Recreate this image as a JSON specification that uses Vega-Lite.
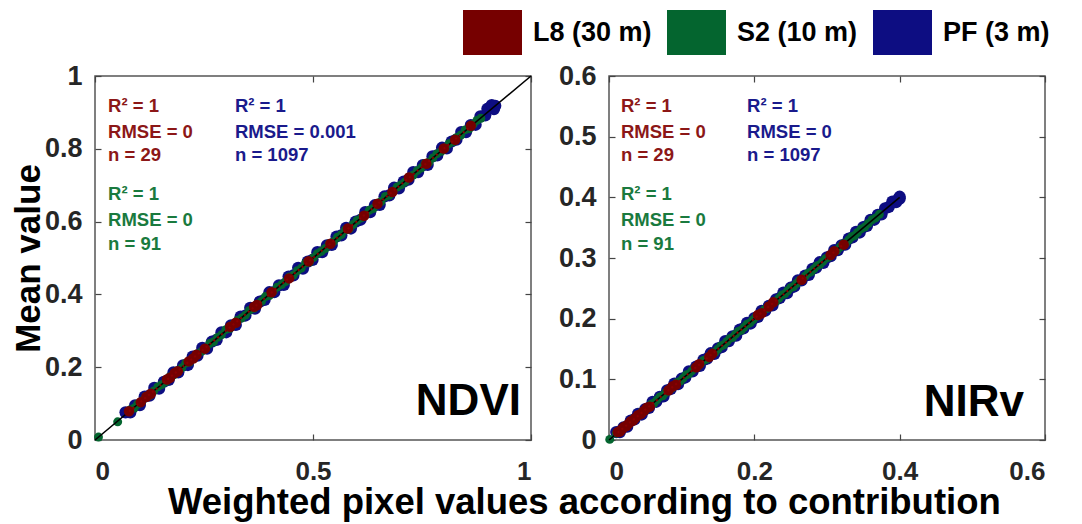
{
  "$schema": "https://vega.github.io/schema/vega-lite/v6.json",
  "padding": {"left": 10, "top": 3, "right": 10, "bottom": 2},
  "background": "white",
  "title": {
    "text": "Weighted pixel values according to contribution",
    "orient": "bottom",
    "anchor": "middle",
    "font": "Liberation Sans",
    "fontSize": 36.5,
    "fontWeight": "bold",
    "color": "black",
    "offset": 0,
    "dx": 54
  },
  "datasets": {
    "ndvi_pf": [
      {"x":0.07,"y":0.076},{"x":0.081,"y":0.076},{"x":0.092,"y":0.095},{"x":0.103,"y":0.096},{"x":0.114,"y":0.119},
      {"x":0.125,"y":0.122},{"x":0.136,"y":0.143},{"x":0.147,"y":0.141},{"x":0.158,"y":0.16},{"x":0.169,"y":0.165},
      {"x":0.18,"y":0.186},{"x":0.191,"y":0.186},{"x":0.202,"y":0.205},{"x":0.213,"y":0.206},{"x":0.224,"y":0.229},
      {"x":0.235,"y":0.232},{"x":0.246,"y":0.253},{"x":0.257,"y":0.251},{"x":0.268,"y":0.27},{"x":0.279,"y":0.275},
      {"x":0.29,"y":0.296},{"x":0.301,"y":0.296},{"x":0.312,"y":0.315},{"x":0.323,"y":0.316},{"x":0.334,"y":0.339},
      {"x":0.345,"y":0.342},{"x":0.356,"y":0.363},{"x":0.367,"y":0.361},{"x":0.378,"y":0.38},{"x":0.389,"y":0.385},
      {"x":0.4,"y":0.406},{"x":0.411,"y":0.406},{"x":0.422,"y":0.425},{"x":0.433,"y":0.426},{"x":0.444,"y":0.449},
      {"x":0.455,"y":0.452},{"x":0.466,"y":0.473},{"x":0.477,"y":0.471},{"x":0.488,"y":0.49},{"x":0.499,"y":0.495},
      {"x":0.51,"y":0.516},{"x":0.521,"y":0.516},{"x":0.532,"y":0.535},{"x":0.543,"y":0.536},{"x":0.554,"y":0.559},
      {"x":0.565,"y":0.562},{"x":0.576,"y":0.583},{"x":0.587,"y":0.581},{"x":0.598,"y":0.6},{"x":0.609,"y":0.605},
      {"x":0.62,"y":0.626},{"x":0.631,"y":0.626},{"x":0.642,"y":0.645},{"x":0.653,"y":0.646},{"x":0.664,"y":0.669},
      {"x":0.675,"y":0.672},{"x":0.686,"y":0.693},{"x":0.697,"y":0.691},{"x":0.708,"y":0.71},{"x":0.719,"y":0.715},
      {"x":0.73,"y":0.736},{"x":0.741,"y":0.736},{"x":0.752,"y":0.755},{"x":0.763,"y":0.756},{"x":0.774,"y":0.779},
      {"x":0.785,"y":0.782},{"x":0.796,"y":0.803},{"x":0.807,"y":0.801},{"x":0.818,"y":0.82},{"x":0.829,"y":0.825},
      {"x":0.84,"y":0.846},{"x":0.851,"y":0.846},{"x":0.862,"y":0.865},{"x":0.873,"y":0.866},{"x":0.884,"y":0.889},
      {"x":0.895,"y":0.892},{"x":0.906,"y":0.913},{"x":0.915,"y":0.909},{"x":0.9,"y":0.91},{"x":0.91,"y":0.92},
      {"x":0.918,"y":0.918}
    ],
    "ndvi_s2": [
      {"x":0.008,"y":0.008},{"x":0.052,"y":0.05},
      {"x":0.081,"y":0.083},{"x":0.09,"y":0.088},{"x":0.098,"y":0.099},{"x":0.108,"y":0.107},{"x":0.117,"y":0.12},
      {"x":0.126,"y":0.123},{"x":0.135,"y":0.135},{"x":0.144,"y":0.146},{"x":0.153,"y":0.152},{"x":0.162,"y":0.16},
      {"x":0.171,"y":0.173},{"x":0.181,"y":0.179},{"x":0.19,"y":0.191},{"x":0.199,"y":0.198},{"x":0.208,"y":0.211},
      {"x":0.217,"y":0.214},{"x":0.226,"y":0.226},{"x":0.235,"y":0.237},{"x":0.245,"y":0.244},{"x":0.254,"y":0.252},
      {"x":0.263,"y":0.265},{"x":0.272,"y":0.27},{"x":0.281,"y":0.282},{"x":0.29,"y":0.289},{"x":0.3,"y":0.303},
      {"x":0.309,"y":0.306},{"x":0.318,"y":0.318},{"x":0.327,"y":0.329},{"x":0.336,"y":0.335},{"x":0.345,"y":0.343},
      {"x":0.354,"y":0.356},{"x":0.364,"y":0.362},{"x":0.373,"y":0.374},{"x":0.382,"y":0.381},{"x":0.391,"y":0.394},
      {"x":0.4,"y":0.397},{"x":0.409,"y":0.409},{"x":0.418,"y":0.42},{"x":0.428,"y":0.427},{"x":0.437,"y":0.435},
      {"x":0.446,"y":0.448},{"x":0.455,"y":0.453},{"x":0.464,"y":0.465},{"x":0.473,"y":0.472},{"x":0.483,"y":0.486},
      {"x":0.492,"y":0.489},{"x":0.501,"y":0.501},{"x":0.51,"y":0.512},{"x":0.519,"y":0.518},{"x":0.528,"y":0.526},
      {"x":0.537,"y":0.539},{"x":0.547,"y":0.545},{"x":0.556,"y":0.557},{"x":0.565,"y":0.564},{"x":0.574,"y":0.577},
      {"x":0.583,"y":0.58},{"x":0.592,"y":0.592},{"x":0.601,"y":0.603},{"x":0.611,"y":0.61},{"x":0.62,"y":0.618},
      {"x":0.629,"y":0.631},{"x":0.638,"y":0.636},{"x":0.647,"y":0.648},{"x":0.656,"y":0.655},{"x":0.666,"y":0.669},
      {"x":0.675,"y":0.672},{"x":0.684,"y":0.684},{"x":0.693,"y":0.695},{"x":0.702,"y":0.701},{"x":0.711,"y":0.709},
      {"x":0.72,"y":0.722},{"x":0.73,"y":0.728},{"x":0.739,"y":0.74},{"x":0.748,"y":0.747},{"x":0.757,"y":0.76},
      {"x":0.766,"y":0.763},{"x":0.775,"y":0.775},{"x":0.784,"y":0.786},{"x":0.794,"y":0.793},{"x":0.803,"y":0.801},
      {"x":0.812,"y":0.814},{"x":0.821,"y":0.819},{"x":0.83,"y":0.831},{"x":0.839,"y":0.838},{"x":0.849,"y":0.852},
      {"x":0.858,"y":0.855},{"x":0.867,"y":0.867},{"x":0.876,"y":0.878},{"x":0.885,"y":0.884}
    ],
    "ndvi_l8": [
      {"x":0.078,"y":0.079},{"x":0.105,"y":0.104},{"x":0.118,"y":0.119},{"x":0.128,"y":0.127},{"x":0.165,"y":0.166},
      {"x":0.172,"y":0.171},{"x":0.183,"y":0.184},{"x":0.19,"y":0.189},{"x":0.215,"y":0.216},{"x":0.225,"y":0.224},
      {"x":0.233,"y":0.234},{"x":0.252,"y":0.251},{"x":0.31,"y":0.311},{"x":0.323,"y":0.322},{"x":0.365,"y":0.366},
      {"x":0.372,"y":0.371},{"x":0.405,"y":0.406},{"x":0.445,"y":0.444},{"x":0.49,"y":0.491},{"x":0.54,"y":0.539},
      {"x":0.58,"y":0.581},{"x":0.617,"y":0.616},{"x":0.648,"y":0.649},{"x":0.682,"y":0.681},{"x":0.72,"y":0.721},
      {"x":0.76,"y":0.759},{"x":0.8,"y":0.801},{"x":0.826,"y":0.825},{"x":0.862,"y":0.863}
    ],
    "ndvi_one": [{"x":0,"y":0},{"x":1,"y":1}],
    "ndvi_fit": [{"x":0.078,"y":0.078},{"x":0.862,"y":0.862}],
    "nirv_pf": [
      {"x":0.01,"y":0.013},{"x":0.015,"y":0.013},{"x":0.02,"y":0.021},{"x":0.025,"y":0.022},{"x":0.03,"y":0.032},
      {"x":0.035,"y":0.034},{"x":0.04,"y":0.043},{"x":0.045,"y":0.042},{"x":0.05,"y":0.051},{"x":0.055,"y":0.053},
      {"x":0.06,"y":0.063},{"x":0.065,"y":0.063},{"x":0.07,"y":0.071},{"x":0.075,"y":0.072},{"x":0.08,"y":0.082},
      {"x":0.085,"y":0.084},{"x":0.09,"y":0.093},{"x":0.095,"y":0.092},{"x":0.1,"y":0.101},{"x":0.105,"y":0.103},
      {"x":0.11,"y":0.113},{"x":0.115,"y":0.113},{"x":0.12,"y":0.121},{"x":0.125,"y":0.122},{"x":0.13,"y":0.132},
      {"x":0.135,"y":0.134},{"x":0.14,"y":0.143},{"x":0.145,"y":0.142},{"x":0.15,"y":0.151},{"x":0.155,"y":0.153},
      {"x":0.16,"y":0.163},{"x":0.165,"y":0.163},{"x":0.17,"y":0.171},{"x":0.175,"y":0.172},{"x":0.18,"y":0.182},
      {"x":0.185,"y":0.184},{"x":0.19,"y":0.193},{"x":0.195,"y":0.192},{"x":0.2,"y":0.201},{"x":0.205,"y":0.203},
      {"x":0.21,"y":0.213},{"x":0.215,"y":0.213},{"x":0.22,"y":0.221},{"x":0.225,"y":0.222},{"x":0.23,"y":0.232},
      {"x":0.235,"y":0.234},{"x":0.24,"y":0.243},{"x":0.245,"y":0.242},{"x":0.25,"y":0.251},{"x":0.255,"y":0.253},
      {"x":0.26,"y":0.263},{"x":0.265,"y":0.263},{"x":0.27,"y":0.271},{"x":0.275,"y":0.272},{"x":0.28,"y":0.282},
      {"x":0.285,"y":0.284},{"x":0.29,"y":0.293},{"x":0.295,"y":0.292},{"x":0.3,"y":0.301},{"x":0.305,"y":0.303},
      {"x":0.31,"y":0.313},{"x":0.315,"y":0.313},{"x":0.32,"y":0.321},{"x":0.325,"y":0.322},{"x":0.33,"y":0.332},
      {"x":0.335,"y":0.334},{"x":0.34,"y":0.343},{"x":0.345,"y":0.342},{"x":0.35,"y":0.351},{"x":0.355,"y":0.353},
      {"x":0.36,"y":0.363},{"x":0.365,"y":0.363},{"x":0.37,"y":0.371},{"x":0.375,"y":0.372},{"x":0.38,"y":0.382},
      {"x":0.385,"y":0.384},{"x":0.39,"y":0.393},{"x":0.395,"y":0.392},{"x":0.4,"y":0.401},{"x":0.398,"y":0.397},
      {"x":0.4,"y":0.398}
    ],
    "nirv_s2": [
      {"x":0.001,"y":0.001},
      {"x":0.01,"y":0.011},{"x":0.014,"y":0.013},{"x":0.018,"y":0.018},{"x":0.022,"y":0.023},{"x":0.026,"y":0.025},
      {"x":0.03,"y":0.03},{"x":0.034,"y":0.035},{"x":0.038,"y":0.037},{"x":0.042,"y":0.042},{"x":0.046,"y":0.047},
      {"x":0.05,"y":0.049},{"x":0.054,"y":0.054},{"x":0.058,"y":0.059},{"x":0.062,"y":0.061},{"x":0.066,"y":0.066},
      {"x":0.07,"y":0.071},{"x":0.074,"y":0.073},{"x":0.078,"y":0.078},{"x":0.082,"y":0.083},{"x":0.086,"y":0.085},
      {"x":0.09,"y":0.09},{"x":0.094,"y":0.095},{"x":0.098,"y":0.097},{"x":0.102,"y":0.102},{"x":0.106,"y":0.107},
      {"x":0.11,"y":0.109},{"x":0.114,"y":0.114},{"x":0.118,"y":0.119},{"x":0.122,"y":0.121},{"x":0.126,"y":0.126},
      {"x":0.13,"y":0.131},{"x":0.134,"y":0.133},{"x":0.138,"y":0.138},{"x":0.142,"y":0.143},{"x":0.146,"y":0.145},
      {"x":0.15,"y":0.15},{"x":0.154,"y":0.155},{"x":0.158,"y":0.157},{"x":0.162,"y":0.162},{"x":0.166,"y":0.167},
      {"x":0.17,"y":0.169},{"x":0.174,"y":0.174},{"x":0.178,"y":0.179},{"x":0.182,"y":0.181},{"x":0.186,"y":0.186},
      {"x":0.19,"y":0.191},{"x":0.194,"y":0.193},{"x":0.198,"y":0.198},{"x":0.202,"y":0.203},{"x":0.206,"y":0.205},
      {"x":0.21,"y":0.21},{"x":0.214,"y":0.215},{"x":0.218,"y":0.217},{"x":0.222,"y":0.222},{"x":0.226,"y":0.227},
      {"x":0.23,"y":0.229},{"x":0.234,"y":0.234},{"x":0.238,"y":0.239},{"x":0.242,"y":0.241},{"x":0.246,"y":0.246},
      {"x":0.25,"y":0.251},{"x":0.254,"y":0.253},{"x":0.258,"y":0.258},{"x":0.262,"y":0.263},{"x":0.266,"y":0.265},
      {"x":0.27,"y":0.27},{"x":0.274,"y":0.275},{"x":0.278,"y":0.277},{"x":0.282,"y":0.282},{"x":0.286,"y":0.287},
      {"x":0.29,"y":0.289},{"x":0.294,"y":0.294},{"x":0.298,"y":0.299},{"x":0.302,"y":0.301},{"x":0.306,"y":0.306},
      {"x":0.31,"y":0.311},{"x":0.314,"y":0.313},{"x":0.318,"y":0.318},{"x":0.322,"y":0.323},{"x":0.326,"y":0.325},
      {"x":0.33,"y":0.33},{"x":0.334,"y":0.335},{"x":0.338,"y":0.337},{"x":0.342,"y":0.342},{"x":0.347,"y":0.348},
      {"x":0.352,"y":0.351},{"x":0.357,"y":0.357},{"x":0.362,"y":0.363},{"x":0.367,"y":0.366},{"x":0.372,"y":0.372}
    ],
    "nirv_l8": [
      {"x":0.012,"y":0.013},{"x":0.015,"y":0.014},{"x":0.018,"y":0.018},{"x":0.021,"y":0.022},{"x":0.024,"y":0.023},
      {"x":0.027,"y":0.027},{"x":0.03,"y":0.031},{"x":0.033,"y":0.032},{"x":0.036,"y":0.036},{"x":0.04,"y":0.041},
      {"x":0.044,"y":0.043},{"x":0.048,"y":0.048},{"x":0.052,"y":0.053},{"x":0.056,"y":0.055},{"x":0.082,"y":0.082},
      {"x":0.087,"y":0.088},{"x":0.092,"y":0.091},{"x":0.12,"y":0.12},{"x":0.124,"y":0.125},{"x":0.138,"y":0.137},
      {"x":0.142,"y":0.142},{"x":0.205,"y":0.206},{"x":0.21,"y":0.209},{"x":0.22,"y":0.22},{"x":0.226,"y":0.227},
      {"x":0.265,"y":0.264},{"x":0.305,"y":0.305},{"x":0.31,"y":0.311},{"x":0.323,"y":0.322}
    ],
    "nirv_one": [{"x":0,"y":0},{"x":0.4,"y":0.4}],
    "nirv_fit": [{"x":0.012,"y":0.012},{"x":0.323,"y":0.323}],
    "notes": [
      {"panel":"NDVI","sensor":"L8","label":"R² = 1","x":0.03,"y":0.901},
      {"panel":"NDVI","sensor":"L8","label":"RMSE = 0","x":0.03,"y":0.83},
      {"panel":"NDVI","sensor":"L8","label":"n = 29","x":0.03,"y":0.766},
      {"panel":"NDVI","sensor":"S2","label":"R² = 1","x":0.03,"y":0.659},
      {"panel":"NDVI","sensor":"S2","label":"RMSE = 0","x":0.03,"y":0.588},
      {"panel":"NDVI","sensor":"S2","label":"n = 91","x":0.03,"y":0.522},
      {"panel":"NDVI","sensor":"PF","label":"R² = 1","x":0.321,"y":0.901},
      {"panel":"NDVI","sensor":"PF","label":"RMSE = 0.001","x":0.321,"y":0.83},
      {"panel":"NDVI","sensor":"PF","label":"n = 1097","x":0.321,"y":0.766},
      {"panel":"NIRv","sensor":"L8","label":"R² = 1","x":0.0165,"y":0.541},
      {"panel":"NIRv","sensor":"L8","label":"RMSE = 0","x":0.0165,"y":0.498},
      {"panel":"NIRv","sensor":"L8","label":"n = 29","x":0.0165,"y":0.46},
      {"panel":"NIRv","sensor":"S2","label":"R² = 1","x":0.0165,"y":0.396},
      {"panel":"NIRv","sensor":"S2","label":"RMSE = 0","x":0.0165,"y":0.353},
      {"panel":"NIRv","sensor":"S2","label":"n = 91","x":0.0165,"y":0.313},
      {"panel":"NIRv","sensor":"PF","label":"R² = 1","x":0.19,"y":0.541},
      {"panel":"NIRv","sensor":"PF","label":"RMSE = 0","x":0.19,"y":0.498},
      {"panel":"NIRv","sensor":"PF","label":"n = 1097","x":0.19,"y":0.46}
    ],
    "tags": [
      {"panel":"NDVI","label":"NDVI","x":0.977,"y":0.069},
      {"panel":"NIRv","label":"NIRv","x":0.571,"y":0.04}
    ]
  },
  "spacing": 22,
  "resolve": {"scale": {"color": "shared"}, "legend": {"color": "shared"}},
  "hconcat": [
    {
      "width": 436,
      "height": 364,
      "encoding": {
        "x": {"field": "x", "type": "quantitative", "scale": {"domain": [0, 1], "nice": false, "zero": false}, "axis": null},
        "y": {"field": "y", "type": "quantitative", "scale": {"domain": [0, 1], "nice": false, "zero": false}, "axis": null}
      },
      "resolve": {"axis": {"x": "independent", "y": "independent"}},
      "layer": [
        {
          "data": {"name": "ndvi_pf"},
          "mark": {"type": "circle", "size": 150, "opacity": 1},
          "encoding": {
            "x": {"field": "x", "type": "quantitative", "scale": {"domain": [0, 1], "nice": false, "zero": false},
                  "axis": {"orient": "bottom", "values": [0, 0.5, 1], "format": "~g", "title": null}},
            "y": {"field": "y", "type": "quantitative", "scale": {"domain": [0, 1], "nice": false, "zero": false},
                  "axis": {"orient": "left", "values": [0, 0.2, 0.4, 0.6, 0.8, 1], "format": "~g", "title": "Mean value"}},
            "color": {
              "datum": "PF (3 m)", "type": "nominal",
              "scale": {"domain": ["L8 (30 m)", "S2 (10 m)", "PF (3 m)"], "range": ["#760000", "#04652f", "#0d0d82"]},
              "legend": {"title": null}
            }
          }
        },
        {
          "data": {"name": "ndvi_s2"},
          "mark": {"type": "circle", "size": 80, "opacity": 1},
          "encoding": {"color": {"datum": "S2 (10 m)", "type": "nominal"}}
        },
        {
          "data": {"name": "ndvi_one"},
          "mark": {"type": "line", "color": "black", "strokeWidth": 1.6},
          "encoding": {
            "x": {"field": "x", "type": "quantitative", "scale": {"domain": [0, 1], "nice": false, "zero": false},
                  "axis": {"orient": "top", "values": [0, 0.5, 1], "labels": false, "title": null}},
            "y": {"field": "y", "type": "quantitative", "scale": {"domain": [0, 1], "nice": false, "zero": false},
                  "axis": {"orient": "right", "values": [0, 0.2, 0.4, 0.6, 0.8, 1], "labels": false, "title": null}}
          }
        },
        {
          "data": {"name": "ndvi_l8"},
          "mark": {"type": "circle", "size": 110, "opacity": 1},
          "encoding": {"color": {"datum": "L8 (30 m)", "type": "nominal"}}
        },
        {
          "data": {"name": "ndvi_fit"},
          "mark": {"type": "line", "color": "#8a0000", "strokeWidth": 2, "strokeDash": [2, 3]},
          "encoding": {}
        },
        {
          "data": {"name": "notes"},
          "transform": [{"filter": "datum.panel === 'NDVI' && datum.sensor === 'L8'"}],
          "mark": {"type": "text", "align": "left", "baseline": "alphabetic", "font": "Liberation Sans", "fontWeight": "bold", "fontSize": 18.5, "color": "#8c1717"},
          "encoding": {"text": {"field": "label"}}
        },
        {
          "data": {"name": "notes"},
          "transform": [{"filter": "datum.panel === 'NDVI' && datum.sensor === 'S2'"}],
          "mark": {"type": "text", "align": "left", "baseline": "alphabetic", "font": "Liberation Sans", "fontWeight": "bold", "fontSize": 18.5, "color": "#1a7a3e"},
          "encoding": {"text": {"field": "label"}}
        },
        {
          "data": {"name": "notes"},
          "transform": [{"filter": "datum.panel === 'NDVI' && datum.sensor === 'PF'"}],
          "mark": {"type": "text", "align": "left", "baseline": "alphabetic", "font": "Liberation Sans", "fontWeight": "bold", "fontSize": 18.5, "color": "#1a1a8c"},
          "encoding": {"text": {"field": "label"}}
        },
        {
          "data": {"name": "tags"},
          "transform": [{"filter": "datum.panel === 'NDVI'"}],
          "mark": {"type": "text", "align": "right", "baseline": "alphabetic", "font": "Liberation Sans", "fontWeight": "bold", "fontSize": 44, "color": "black"},
          "encoding": {"text": {"field": "label"}}
        }
      ]
    },
    {
      "width": 436,
      "height": 364,
      "encoding": {
        "x": {"field": "x", "type": "quantitative", "scale": {"domain": [0, 0.6], "nice": false, "zero": false}, "axis": null},
        "y": {"field": "y", "type": "quantitative", "scale": {"domain": [0, 0.6], "nice": false, "zero": false}, "axis": null}
      },
      "resolve": {"axis": {"x": "independent", "y": "independent"}},
      "layer": [
        {
          "data": {"name": "nirv_pf"},
          "mark": {"type": "circle", "size": 150, "opacity": 1},
          "encoding": {
            "x": {"field": "x", "type": "quantitative", "scale": {"domain": [0, 0.6], "nice": false, "zero": false},
                  "axis": {"orient": "bottom", "values": [0, 0.2, 0.4, 0.6], "format": "~g", "title": null}},
            "y": {"field": "y", "type": "quantitative", "scale": {"domain": [0, 0.6], "nice": false, "zero": false},
                  "axis": {"orient": "left", "values": [0, 0.1, 0.2, 0.3, 0.4, 0.5, 0.6], "format": "~g", "title": null}},
            "color": {"datum": "PF (3 m)", "type": "nominal"}
          }
        },
        {
          "data": {"name": "nirv_s2"},
          "mark": {"type": "circle", "size": 80, "opacity": 1},
          "encoding": {"color": {"datum": "S2 (10 m)", "type": "nominal"}}
        },
        {
          "data": {"name": "nirv_one"},
          "mark": {"type": "line", "color": "black", "strokeWidth": 1.6},
          "encoding": {
            "x": {"field": "x", "type": "quantitative", "scale": {"domain": [0, 0.6], "nice": false, "zero": false},
                  "axis": {"orient": "top", "values": [0, 0.2, 0.4, 0.6], "labels": false, "title": null}},
            "y": {"field": "y", "type": "quantitative", "scale": {"domain": [0, 0.6], "nice": false, "zero": false},
                  "axis": {"orient": "right", "values": [0, 0.1, 0.2, 0.3, 0.4, 0.5, 0.6], "labels": false, "title": null}}
          }
        },
        {
          "data": {"name": "nirv_l8"},
          "mark": {"type": "circle", "size": 110, "opacity": 1},
          "encoding": {"color": {"datum": "L8 (30 m)", "type": "nominal"}}
        },
        {
          "data": {"name": "nirv_fit"},
          "mark": {"type": "line", "color": "#8a0000", "strokeWidth": 2, "strokeDash": [2, 3]},
          "encoding": {}
        },
        {
          "data": {"name": "notes"},
          "transform": [{"filter": "datum.panel === 'NIRv' && datum.sensor === 'L8'"}],
          "mark": {"type": "text", "align": "left", "baseline": "alphabetic", "font": "Liberation Sans", "fontWeight": "bold", "fontSize": 18.5, "color": "#8c1717"},
          "encoding": {"text": {"field": "label"}}
        },
        {
          "data": {"name": "notes"},
          "transform": [{"filter": "datum.panel === 'NIRv' && datum.sensor === 'S2'"}],
          "mark": {"type": "text", "align": "left", "baseline": "alphabetic", "font": "Liberation Sans", "fontWeight": "bold", "fontSize": 18.5, "color": "#1a7a3e"},
          "encoding": {"text": {"field": "label"}}
        },
        {
          "data": {"name": "notes"},
          "transform": [{"filter": "datum.panel === 'NIRv' && datum.sensor === 'PF'"}],
          "mark": {"type": "text", "align": "left", "baseline": "alphabetic", "font": "Liberation Sans", "fontWeight": "bold", "fontSize": 18.5, "color": "#1a1a8c"},
          "encoding": {"text": {"field": "label"}}
        },
        {
          "data": {"name": "tags"},
          "transform": [{"filter": "datum.panel === 'NIRv'"}],
          "mark": {"type": "text", "align": "right", "baseline": "alphabetic", "font": "Liberation Sans", "fontWeight": "bold", "fontSize": 44, "color": "black"},
          "encoding": {"text": {"field": "label"}}
        }
      ]
    }
  ],
  "config": {
    "view": {"stroke": "#555555", "strokeWidth": 1.5},
    "axis": {
      "domain": false,
      "grid": false,
      "tickSize": -6,
      "tickColor": "#444444",
      "tickWidth": 1.2,
      "labelFont": "Liberation Sans",
      "labelFontWeight": "bold",
      "labelFontSize": 27,
      "labelColor": "#262626",
      "titleFont": "Liberation Sans",
      "titleFontWeight": "bold",
      "titleFontSize": 35,
      "titleColor": "black",
      "titlePadding": -2
    },
    "axisX": {"labelPadding": 24, "labelFontSize": 26},
    "axisY": {"labelPadding": 19},
    "legend": {
      "orient": "none",
      "legendX": 368,
      "legendY": -73,
      "direction": "horizontal",
      "symbolType": "M-1,-0.76H1V0.76H-1Z",
      "symbolSize": 3481,
      "symbolStrokeWidth": 0,
      "symbolOpacity": 1,
      "labelFont": "Liberation Sans",
      "labelFontWeight": "bold",
      "labelFontSize": 27,
      "labelColor": "black",
      "labelOffset": 11,
      "columnPadding": 15
    }
  }
}
